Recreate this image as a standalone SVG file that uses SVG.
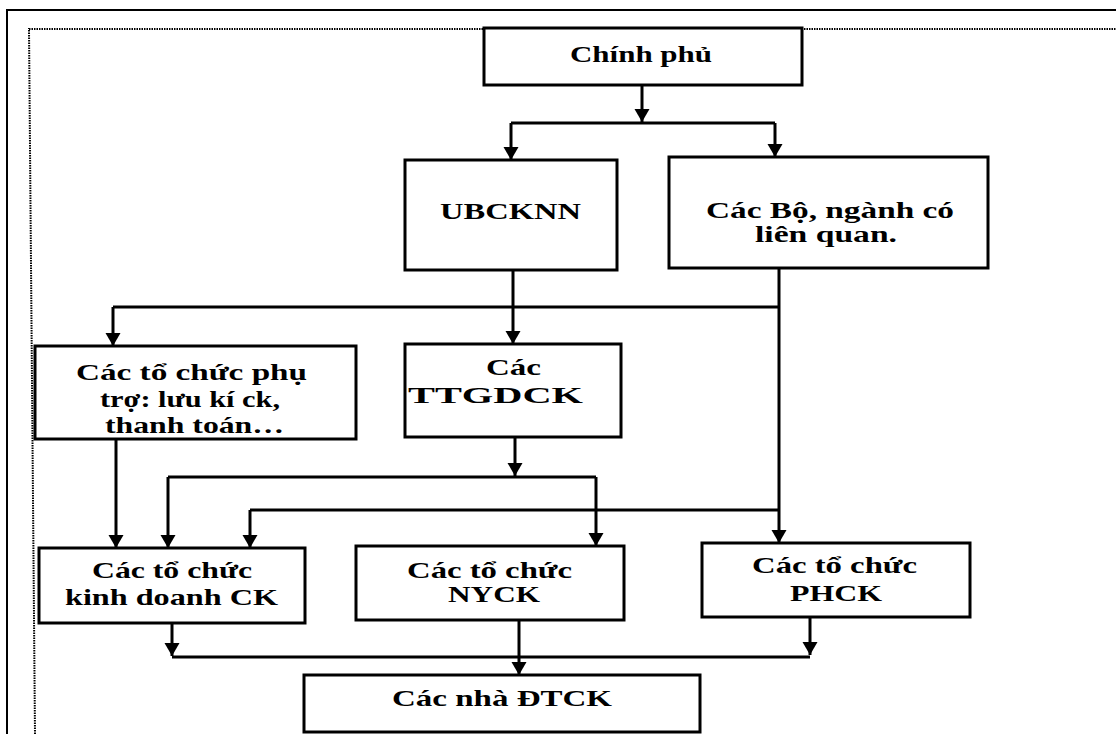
<svg xmlns="http://www.w3.org/2000/svg" width="1116" height="734" viewBox="0 0 1116 734">
<defs>
<style>
.box{fill:#fff;stroke:#000;stroke-width:3}
.t{font-family:"Liberation Serif","Times New Roman",serif;font-weight:bold;font-size:24px;fill:#000}
.c{fill:none;stroke:#000;stroke-width:3}
.frame{fill:none;stroke:#000;stroke-width:2}
.dot{fill:none;stroke:#000;stroke-width:2;stroke-dasharray:1.5 1}
</style>
<marker id="ah" markerUnits="userSpaceOnUse" markerWidth="16" markerHeight="16" viewBox="0 -8 14 16" refX="13" refY="0" orient="auto">
<path d="M0,-7.5 L13,0 L0,7.5 z" fill="#000"/>
</marker>
</defs>
<rect width="1116" height="734" fill="#fff"/>
<g id="frame">
<path class="frame" d="M7,734 V10 H1116"/>
<path class="dot" d="M35,734 L29,29 H1116"/>
</g>
<g id="connectors">
<line class="c" x1="642" y1="85" x2="642" y2="122" marker-end="url(#ah)"/>
<path class="c" d="M511,123 H775"/>
<line class="c" x1="511" y1="123" x2="511" y2="160" marker-end="url(#ah)"/>
<line class="c" x1="775" y1="123" x2="775" y2="157" marker-end="url(#ah)"/>
<line class="c" x1="513" y1="270" x2="513" y2="344" marker-end="url(#ah)"/>
<line class="c" x1="779" y1="268" x2="779" y2="543" marker-end="url(#ah)"/>
<path class="c" d="M113,307 H779"/>
<line class="c" x1="113" y1="307" x2="113" y2="346" marker-end="url(#ah)"/>
<line class="c" x1="515" y1="437" x2="515" y2="476" marker-end="url(#ah)"/>
<path class="c" d="M168,477 H596"/>
<line class="c" x1="168" y1="477" x2="168" y2="548" marker-end="url(#ah)"/>
<line class="c" x1="596" y1="477" x2="596" y2="546" marker-end="url(#ah)"/>
<path class="c" d="M250,510 H779"/>
<line class="c" x1="250" y1="510" x2="250" y2="548" marker-end="url(#ah)"/>
<line class="c" x1="116" y1="439" x2="116" y2="548" marker-end="url(#ah)"/>
<line class="c" x1="172" y1="623" x2="172" y2="656" marker-end="url(#ah)"/>
<path class="c" d="M172,657 H810"/>
<line class="c" x1="810" y1="617" x2="810" y2="655" marker-end="url(#ah)"/>
<line class="c" x1="519" y1="620" x2="519" y2="675" marker-end="url(#ah)"/>
</g>
<g id="chinhphu">
<rect class="box" x="484" y="28" width="318" height="57"/>
<text class="t" x="570" y="62" textLength="142" lengthAdjust="spacingAndGlyphs">Chính phủ</text>
</g>
<g id="ubcknn">
<rect class="box" x="405" y="160" width="212" height="110"/>
<text class="t" x="440" y="219" textLength="141" lengthAdjust="spacingAndGlyphs">UBCKNN</text>
</g>
<g id="cacbo">
<rect class="box" x="669" y="157" width="319" height="111"/>
<text class="t" x="706" y="218" textLength="248" lengthAdjust="spacingAndGlyphs">Các Bộ, ngành có</text>
<text class="t" x="755" y="242" textLength="142" lengthAdjust="spacingAndGlyphs">liên quan.</text>
</g>
<g id="phutro">
<rect class="box" x="35" y="346" width="321" height="93"/>
<text class="t" x="76" y="380" textLength="231" lengthAdjust="spacingAndGlyphs">Các tổ chức phụ</text>
<text class="t" x="100" y="407" textLength="180" lengthAdjust="spacingAndGlyphs">trợ: lưu kí ck,</text>
<text class="t" x="105" y="433" textLength="179" lengthAdjust="spacingAndGlyphs">thanh toán…</text>
</g>
<g id="ttgdck">
<rect class="box" x="405" y="344" width="216" height="93"/>
<text class="t" x="486" y="375" textLength="55" lengthAdjust="spacingAndGlyphs">Các</text>
<text class="t" x="408" y="403" textLength="175" lengthAdjust="spacingAndGlyphs">TTGDCK</text>
</g>
<g id="kinhdoanh">
<rect class="box" x="39" y="548" width="266" height="75"/>
<text class="t" x="92" y="578" textLength="160" lengthAdjust="spacingAndGlyphs">Các tổ chức</text>
<text class="t" x="65" y="605" textLength="213" lengthAdjust="spacingAndGlyphs">kinh doanh CK</text>
</g>
<g id="nyck">
<rect class="box" x="356" y="546" width="268" height="74"/>
<text class="t" x="407" y="578" textLength="165" lengthAdjust="spacingAndGlyphs">Các tổ chức</text>
<text class="t" x="448" y="602" textLength="92" lengthAdjust="spacingAndGlyphs">NYCK</text>
</g>
<g id="phck">
<rect class="box" x="702" y="543" width="268" height="74"/>
<text class="t" x="752" y="573" textLength="165" lengthAdjust="spacingAndGlyphs">Các tổ chức</text>
<text class="t" x="790" y="601" textLength="92" lengthAdjust="spacingAndGlyphs">PHCK</text>
</g>
<g id="dtck">
<rect class="box" x="304" y="675" width="396" height="57"/>
<text class="t" x="392" y="706" textLength="220" lengthAdjust="spacingAndGlyphs">Các nhà ĐTCK</text>
</g>
</svg>
